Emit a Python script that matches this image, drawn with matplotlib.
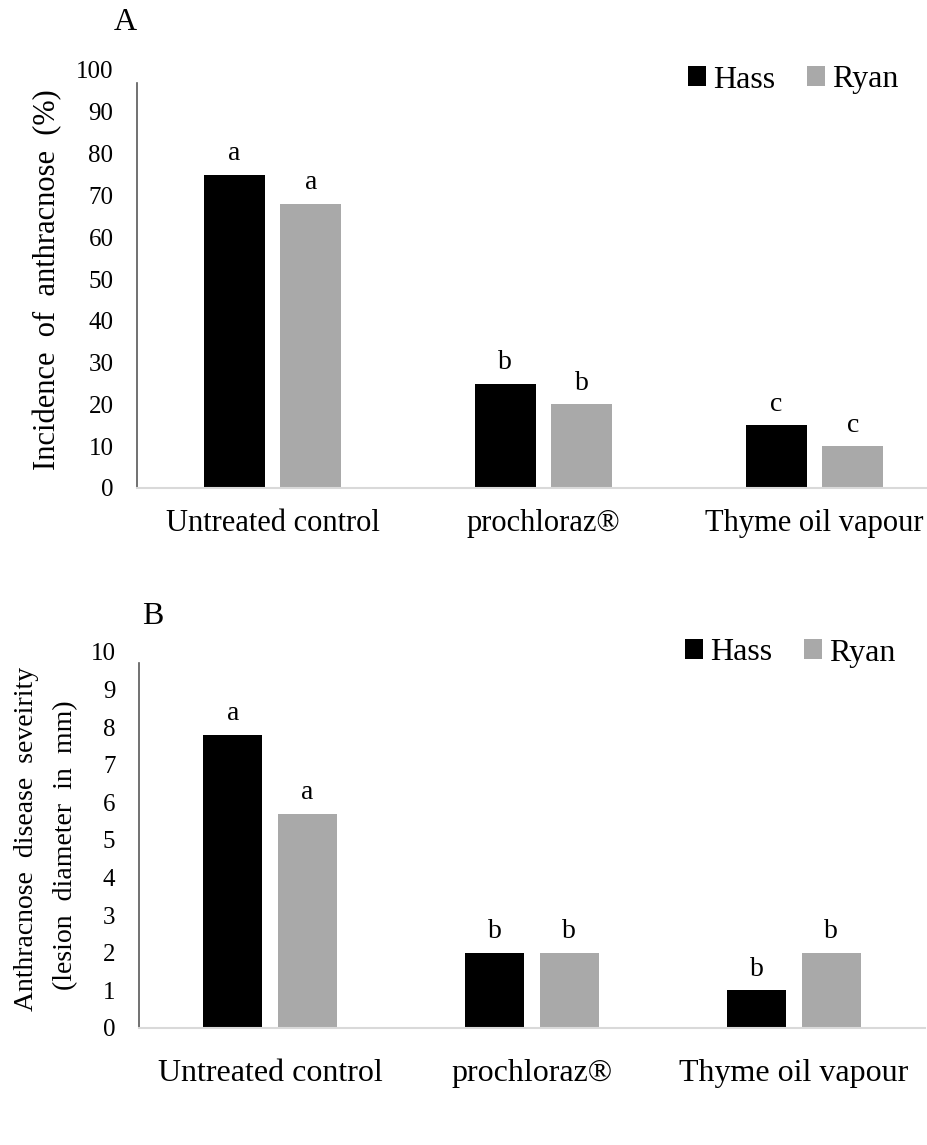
import matplotlib
matplotlib.use("Agg")
import matplotlib.pyplot as plt
import numpy as np

plt.rcParams['font.family'] = ['Liberation Serif', 'DejaVu Serif']

# data
treatments = ['Untreated control', 'prochloraz®', 'Thyme oil vapour']
cultivars = ['Hass', 'Ryan']

incidence_hass = [75, 25, 15]
incidence_ryan = [68, 20, 10]
incidence_letters_hass = ['a', 'b', 'c']
incidence_letters_ryan = ['a', 'b', 'c']

severity_hass = [7.8, 2.0, 1.0]
severity_ryan = [5.7, 2.0, 2.0]
severity_letters_hass = ['a', 'b', 'b']
severity_letters_ryan = ['a', 'b', 'b']

yticks_a = np.arange(0, 101, 10)
yticks_b = np.arange(0, 11, 1)

HASS_COLOR = '#000000'
RYAN_COLOR = '#a9a9a9'

W, H = 927, 1145
fig = plt.figure(figsize=(W / 100, H / 100), dpi=100)


def px_axes(left, right, top, bottom):
    # convert pixel box to figure fraction
    return [left / W, 1 - bottom / H, (right - left) / W, (bottom - top) / H]


def draw_panel(ax, hass, ryan, lhass, lryan, yticks, ymax, spine_top, xpad, xfs):
    x = np.arange(len(treatments))
    bw = 0.225
    off = 0.142
    b1 = ax.bar(x - off, hass, bw, color=HASS_COLOR, label=cultivars[0])
    b2 = ax.bar(x + off, ryan, bw, color=RYAN_COLOR, label=cultivars[1])

    for bars, letters in ((b1, lhass), (b2, lryan)):
        for bar, let in zip(bars, letters):
            ax.annotate(let, (bar.get_x() + bar.get_width() / 2, bar.get_height()),
                        xytext=(0, 10.5), textcoords='offset points',
                        ha='center', va='baseline', fontsize=20)

    ax.set_xlim(-0.5, len(treatments) - 0.5)
    ax.set_ylim(0, ymax)
    ax.set_yticks(yticks)
    ax.set_xticks(x)
    ax.set_xticklabels(treatments, fontsize=xfs)
    ax.tick_params(axis='y', length=0, pad=17, labelsize=18)
    ax.tick_params(axis='x', length=0, pad=xpad)

    ax.spines['top'].set_visible(False)
    ax.spines['right'].set_visible(False)
    ax.spines['left'].set_color('#595959')
    ax.spines['left'].set_linewidth(1.2)
    ax.spines['left'].set_bounds(0, spine_top)
    ax.spines['bottom'].set_color('#d9d9d9')
    ax.spines['bottom'].set_linewidth(1.5)
    return b1, b2


def add_legend(ax, left_px, y_px):
    fig.legend(*ax.get_legend_handles_labels(), loc='center left',
               bbox_to_anchor=(left_px / W, 1 - y_px / H), ncol=2, frameon=False,
               fontsize=23, handlelength=0.56, handleheight=0.56,
               handletextpad=0.22, columnspacing=1.0, borderpad=0, borderaxespad=0)


# panel A
axA = fig.add_axes(px_axes(137, 950, 70, 488))
draw_panel(axA, incidence_hass, incidence_ryan, incidence_letters_hass,
           incidence_letters_ryan, yticks_a, 100, 97, 15, 22)
fig.text(48 / W, 1 - 280 / H, 'Incidence  of  anthracnose  (%)', rotation=90,
         ha='center', va='center', fontsize=22)
fig.text(125 / W, 1 - 22 / H, 'A', ha='center', va='center', fontsize=23)
add_legend(axA, 688, 80)

# panel B
axB = fig.add_axes(px_axes(139, 925, 652, 1028))
draw_panel(axB, severity_hass, severity_ryan, severity_letters_hass,
           severity_letters_ryan, yticks_b, 10, 9.7, 22, 23)
fig.text(27 / W, 1 - 839 / H, 'Anthracnose  disease  seveirity', rotation=90,
         ha='center', va='center', fontsize=20)
fig.text(66 / W, 1 - 845 / H, '(lesion  diameter  in  mm)', rotation=90,
         ha='center', va='center', fontsize=20)
fig.text(153 / W, 1 - 616 / H, 'B', ha='center', va='center', fontsize=23)
add_legend(axB, 685, 653)

fig.savefig('out.png', dpi=100, facecolor='white')
